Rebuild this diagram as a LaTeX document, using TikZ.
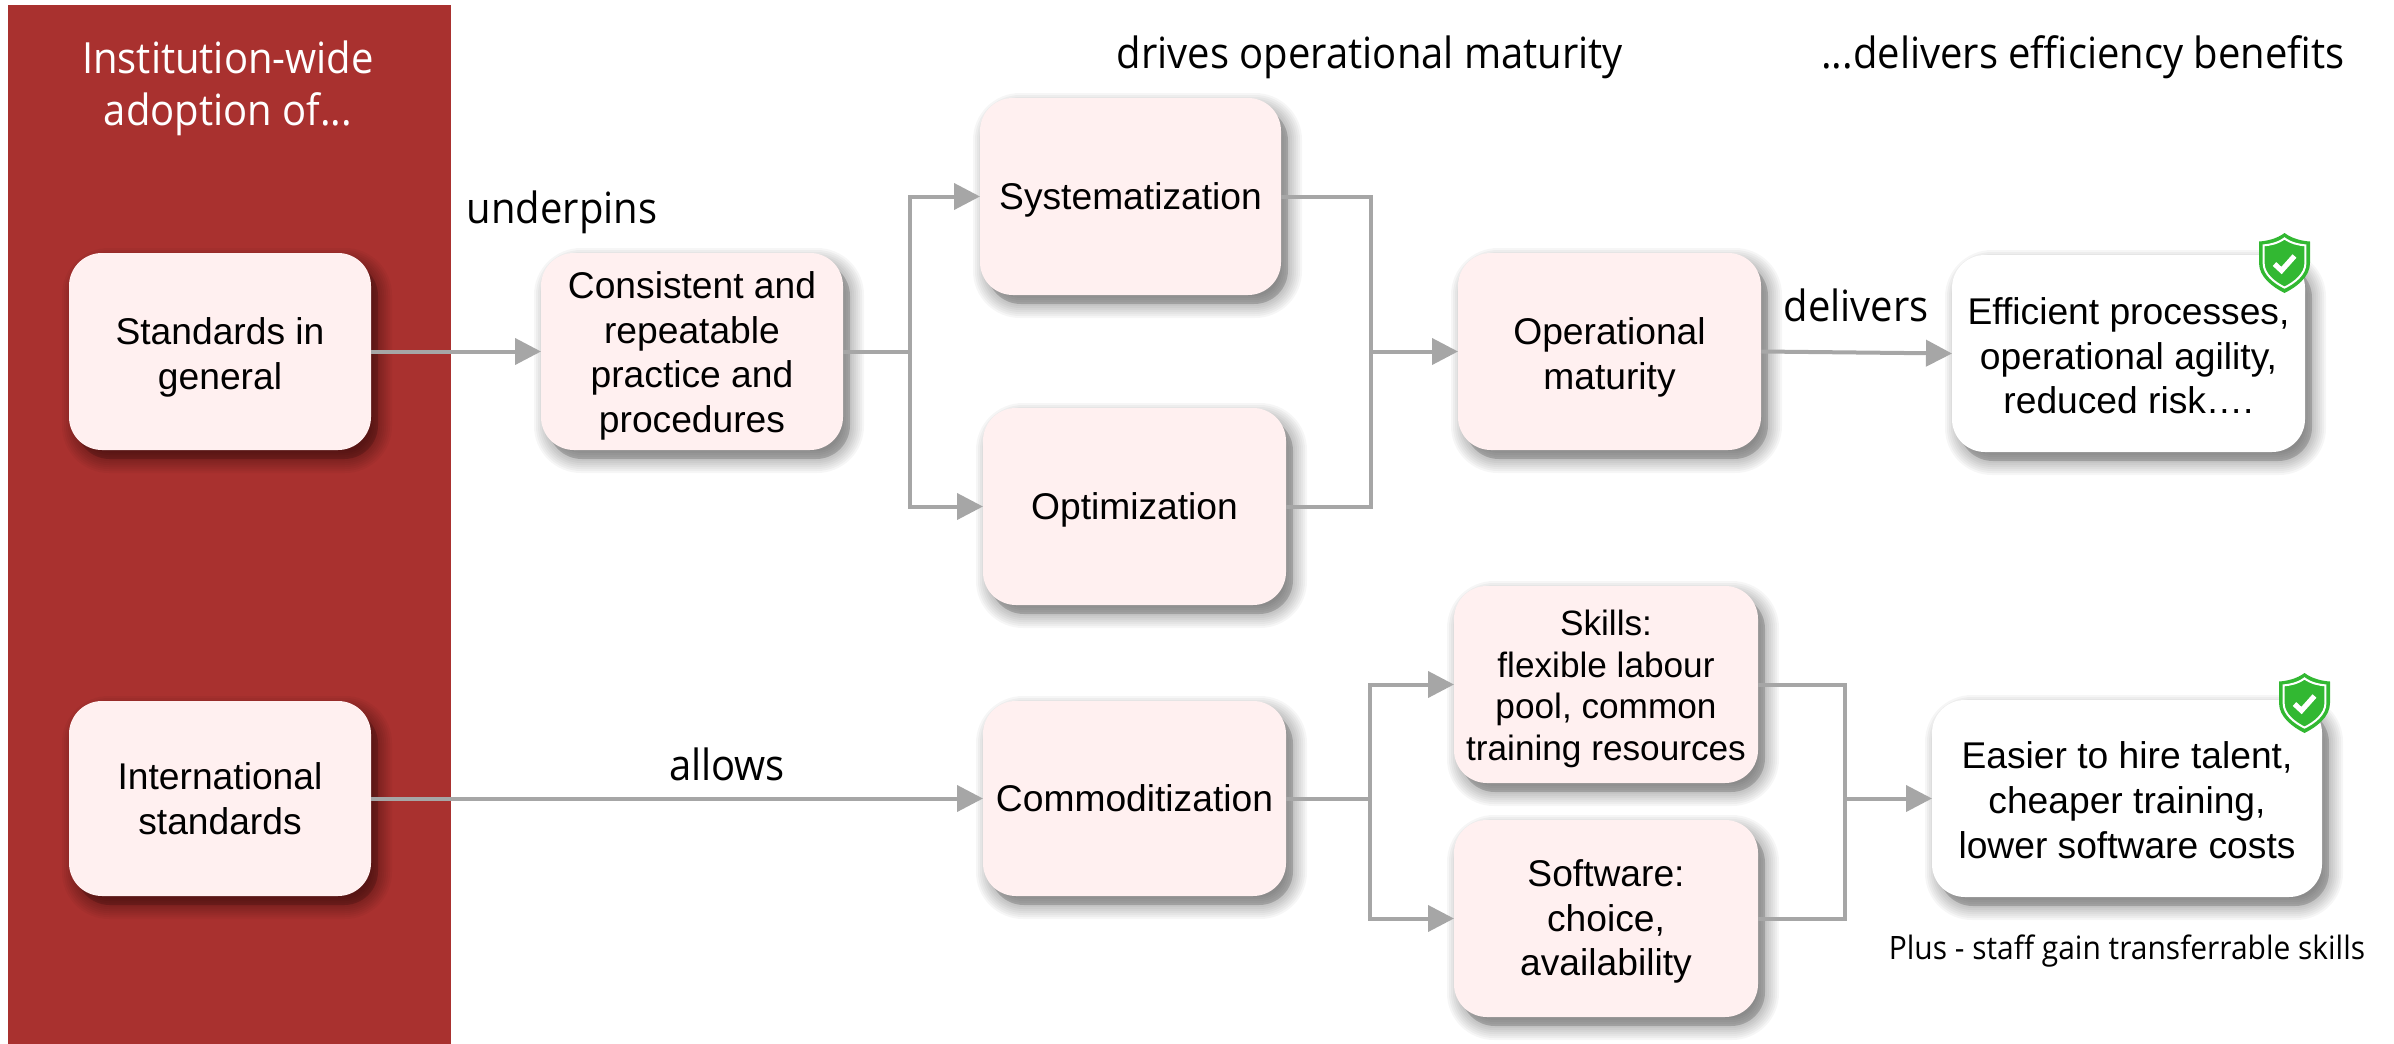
\documentclass[tikz,border=0pt]{standalone}
\usepackage{fontspec}
\setmainfont{Liberation Sans}
\newfontfamily\seg[FakeStretch=0.93]{Open Sans}
\usetikzlibrary{arrows.meta}
\definecolor{panelred}{RGB}{169,49,47}
\definecolor{cardpink}{RGB}{255,240,240}
\definecolor{linegray}{RGB}{166,166,166}
\definecolor{shieldgreen}{RGB}{50,184,50}
\tikzset{
  cardnode/.style={inner sep=0pt,outer sep=0pt,align=center,text=black},
  mainfont/.style={font=\fontsize{18.6}{22.4}\selectfont},
  smallfont/.style={font=\fontsize{17.6}{20.7}\selectfont},
  conn/.style={draw=linegray,line width=2pt},
  connarrow/.style={conn,-{Triangle[length=13pt,width=13pt]}},
  lab/.style={inner sep=0pt,font=\seg\fontsize{21.5}{26}\selectfont,text=black,align=center},
  shield/.pic={
    \def\shieldpath{(0,0) .. controls (8,6) and (18,8) .. (25.5,8.5) -- (25.5,30) .. controls (25.5,44) and (12,54) .. (0,60) .. controls (-12,54) and (-25.5,44) .. (-25.5,30) -- (-25.5,8.5) .. controls (-18,8) and (-8,6) .. (0,0) -- cycle}
    \fill[shieldgreen] \shieldpath;
    \begin{scope}[shift={(0,5.4)},scale=.82]
      \draw[white,line width=1pt,fill=shieldgreen] \shieldpath;
    \end{scope}
    \draw[white,line width=2.6pt,line cap=butt] (-10,31) -- (-3,37.5) -- (10,23);
  }
}
% moves a card's text down by #1 pt: grows the height of its first line by twice that
\newcommand{\dn}[1]{\rule{0pt}{\dimexpr 13.4pt+#1pt+#1pt\relax}}
% \card[style]{name}{x1}{y1}{x2}{y2}{fill}{text}
\newcommand{\card}[8][mainfont]{%
  \foreach \k in {-8,-6,...,14}{%
    \pgfmathsetmacro{\rr}{max(4,(33+\k)*0.5)}%
    \fill[black,opacity=0.035,rounded corners=\rr pt]
      ({#3-\k+7},{#4-\k+9}) rectangle ({#5+\k+7},{#6+\k+9});
  }%
  \fill[black,opacity=0.16,rounded corners=17pt] ({#3+7},{#4+9}) rectangle ({#5+7},{#6+9});
  \fill[#7,rounded corners=16.5pt] (#3,#4) rectangle (#5,#6);
  \node[cardnode,#1,minimum width={(#5-#3)*0.5pt},minimum height={(#6-#4)*0.5pt}] (#2) at ({(#3+#5)/2},{(#4+#6)/2}) {#8};
}
\begin{document}
\begin{tikzpicture}[x=0.5pt,y=-0.5pt]
\useasboundingbox (0,0) rectangle (2394,1044);
\fill[panelred] (8,5) rectangle (451,1044);

\card{std}{69}{253}{371}{450}{cardpink}{\dn{3}Standards in\\general}
\card{intl}{69}{701}{371}{896}{cardpink}{International\\standards}
\card{cons}{541}{253}{843}{450}{cardpink}{\dn{2.2}Consistent and\\repeatable\\practice and\\procedures}
\card{sys}{980}{98}{1281}{295}{cardpink}{\dn{1.5}Systematization}
\card{opt}{983}{408}{1286}{605}{cardpink}{\dn{1.5}Optimization}
\card{oper}{1458}{253}{1761}{450}{cardpink}{\dn{3}Operational\\maturity}
\card{eff}{1952}{255}{2305}{452}{white}{\dn{1.2}Efficient processes,\\operational agility,\\reduced risk….}
\card{comm}{983}{701}{1286}{896}{cardpink}{Commoditization}
\card[smallfont]{skills}{1454}{586}{1758}{783}{cardpink}{\dn{1.9}Skills:\\flexible labour\\pool, common\\training resources}
\card{soft}{1454}{820}{1758}{1017}{cardpink}{\dn{1.5}Software:\\choice,\\availability}
\card{easy}{1932}{700}{2322}{897}{white}{\dn{.8}Easier to hire talent,\\cheaper training,\\lower software costs}

\pic at (2284.5,233) {shield};
\pic at (2304.5,673) {shield};

\coordinate (j1) at (910,351.5);
\coordinate (j2) at (1371,351.5);
\coordinate (j3) at (1370,798.5);
\coordinate (j4) at (1845,798.5);

\draw[connarrow] (std.east) -- (cons.west);
\draw[conn] (cons.east) -- (j1);
\draw[connarrow] (j1) |- (sys.west);
\draw[connarrow] (j1) |- (opt.west);
\draw[conn] (sys.east) -| (j2);
\draw[conn] (opt.east) -| (j2);
\draw[connarrow] (j2) -- (oper.west);
\draw[connarrow] (oper.east) -- (eff.west);
\draw[connarrow] (intl.east) -- (comm.west);
\draw[conn] (comm.east) -- (j3);
\draw[connarrow] (j3) |- (skills.west);
\draw[connarrow] (j3) |- (soft.west);
\draw[conn] (skills.east) -| (j4);
\draw[conn] (soft.east) -| (j4);
\draw[connarrow] (j4) -- (easy.west);

\node[lab,text=white] (t1) at (228,88) {Institution-wide\\adoption of...};
\node[lab] (t2) at (562,212) {underpins};
\node[lab] (t3) at (1370,57) {drives operational maturity};
\node[lab] (t4) at (2083,57) {...delivers efficiency benefits};
\node[lab] (t5) at (1856,305) {delivers};
\node[lab] (t6) at (727,764) {allows};
\node[lab,font=\seg\fontsize{16.1}{18}\selectfont] (t7) at (2127,951) {Plus - staff gain transferrable skills};
\end{tikzpicture}
\end{document}
